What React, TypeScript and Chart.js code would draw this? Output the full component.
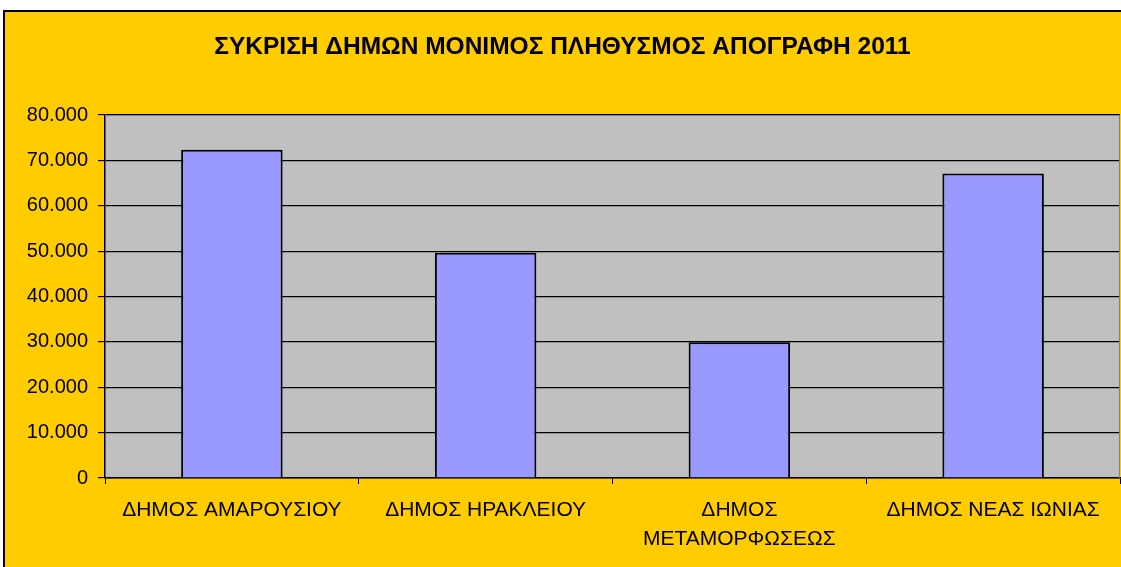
import { useEffect, useRef } from 'react';
import { Chart, registerables } from 'chart.js';

Chart.register(...registerables);

const titleText = 'ΣΥΚΡΙΣΗ ΔΗΜΩΝ ΜΟΝΙΜΟΣ ΠΛΗΘΥΣΜΟΣ ΑΠΟΓΡΑΦΗ 2011';
const categories: string[][] = [
  ['ΔΗΜΟΣ ΑΜΑΡΟΥΣΙΟΥ'],
  ['ΔΗΜΟΣ ΗΡΑΚΛΕΙΟΥ'],
  ['ΔΗΜΟΣ', 'ΜΕΤΑΜΟΡΦΩΣΕΩΣ'],
  ['ΔΗΜΟΣ ΝΕΑΣ ΙΩΝΙΑΣ'],
];
const population = [72333, 49642, 29891, 67134];
const yMin = 0;
const yMax = 80000;
const yStep = 10000;

const FONT = '"Liberation Sans", Arial, sans-serif';
const fmt = (v: number) => String(v).replace(/\B(?=(\d{3})+(?!\d))/g, '.');

const plotBg = {
  id: 'plotBg',
  beforeDraw(chart: any) {
    const { ctx, chartArea: a } = chart;
    ctx.save();
    ctx.fillStyle = '#C0C0C0';
    ctx.fillRect(a.left, a.top, a.right - a.left, a.bottom - a.top);
    ctx.restore();
  },
  afterDraw(chart: any) {
    const { ctx, chartArea: a } = chart;
    ctx.save();
    ctx.strokeStyle = '#808080';
    ctx.lineWidth = 1;
    ctx.beginPath();
    ctx.moveTo(a.left, a.top + 0.5);
    ctx.lineTo(a.right - 0.5, a.top + 0.5);
    ctx.lineTo(a.right - 0.5, a.bottom);
    ctx.stroke();
    ctx.restore();
  },
};

export default function App() {
  const ref = useRef<HTMLCanvasElement>(null);
  useEffect(() => {
    if (!ref.current) return;
    const chart = new Chart(ref.current, {
      type: 'bar',
      data: {
        labels: categories,
        datasets: [
          {
            data: population,
            backgroundColor: '#9999FF',
            borderColor: '#000000',
            borderWidth: 2,
            categoryPercentage: 1,
            barPercentage: 0.4,
          },
        ],
      },
      plugins: [plotBg],
      options: {
        animation: false,
        responsive: false,
        maintainAspectRatio: false,
        layout: { padding: { left: 0, right: 1, top: 0, bottom: 0 } },
        plugins: {
          legend: { display: false },
          tooltip: { enabled: false },
          title: {
            display: true,
            text: titleText,
            color: '#000000',
            font: { family: FONT, size: 24.5, weight: 'bold', lineHeight: 1.2 },
            padding: { top: 21, bottom: 52.6 },
          },
        },
        scales: {
          x: {
            offset: true,
            grid: {
              offset: true,
              drawOnChartArea: false,
              drawTicks: true,
              tickLength: 6,
              color: '#000000',
            },
            border: { color: '#000000', width: 1.5 },
            ticks: {
              color: '#000000',
              font: { family: FONT, size: 21, lineHeight: 1.38 },
              padding: 12,
              maxRotation: 0,
              autoSkip: false,
            },
            afterFit: (s: any) => {
              s.height = 89;
            },
          },
          y: {
            min: yMin,
            max: yMax,
            ticks: {
              stepSize: yStep,
              color: '#000000',
              font: { family: FONT, size: 20 },
              padding: 10,
              callback: (v: any) => fmt(Number(v)),
            },
            grid: {
              color: '#000000',
              lineWidth: 1.2,
              tickLength: 7,
            },
            border: { color: '#000000', width: 1.5 },
            afterFit: (s: any) => {
              s.width = 100;
            },
          },
        },
      },
    });
    return () => chart.destroy();
  }, []);

  return (
    <div style={{ position: 'fixed', left: 0, top: 0, width: 1121, height: 567, background: '#FFFFFF', overflow: 'hidden' }}>
      <div
        style={{
          position: 'absolute',
          left: 3,
          top: 10,
          width: 1118,
          height: 557,
          boxSizing: 'border-box',
          borderTop: '2px solid #000000',
          borderLeft: '2px solid #000000',
          background: '#FFCC00',
        }}
      >
        <canvas ref={ref} width={1116} height={555} style={{ display: 'block', width: 1116, height: 555 }} />
      </div>
    </div>
  );
}
